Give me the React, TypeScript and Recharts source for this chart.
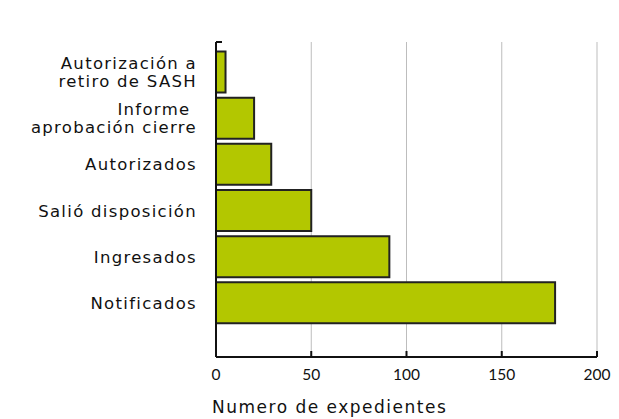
import { BarChart, Bar, XAxis, YAxis, CartesianGrid } from 'recharts'

const categories = [
  'Autorización a\nretiro de SASH',
  'Informe \naprobación cierre',
  'Autorizados',
  'Salió disposición',
  'Ingresados',
  'Notificados',
]
const expedientes = [5, 20, 29, 50, 91, 178]
const xTicks = [0, 50, 100, 150, 200]

const data = categories.map((c, i) => ({ cat: c, n: expedientes[i] }))

const FONT = '"DejaVu Sans", sans-serif'

const YTick = ({ x, y, payload }: any) => {
  const lines: string[] = String(payload.value).split('\n')
  const lh = 18
  const start = -((lines.length - 1) * lh) / 2
  return (
    <text x={x} y={y} textAnchor="end" fill="#111" fontSize={16.5} letterSpacing={1.3} fontFamily={FONT}>
      {lines.map((l, i) => (
        <tspan key={i} x={x} dy={i === 0 ? start + 6 : lh} style={{ whiteSpace: 'pre' }}>{l}</tspan>
      ))}
    </text>
  )
}

const XTick = ({ x, y, payload }: any) => (
  <g>
    <line x1={x} x2={x} y1={y - 6} y2={y} stroke="#111" strokeWidth={2} />
    <text x={x} y={y + 23} textAnchor="middle" fill="#111" fontSize={15.5} fontFamily="Lato, sans-serif">
      {payload.value}
    </text>
  </g>
)

export default function App() {
  return (
    <div style={{ position: 'absolute', left: 0, top: 0, background: '#fff' }}>
      <BarChart
        width={619} height={419} data={data} layout="vertical"
        margin={{ top: 42, right: 22, bottom: 0, left: 0 }}
        barCategoryGap={2.5}
      >
        <CartesianGrid horizontal={false} stroke="#bdbdbd" strokeWidth={1} />
        <XAxis
          type="number" domain={[0, 200]} ticks={xTicks} height={62}
          tickLine={false} tickSize={0} tickMargin={0}
          axisLine={{ stroke: '#111', strokeWidth: 2 }}
          tick={<XTick />}
          label={({ viewBox }: any) => (
            <text x={viewBox.x - 4} y={viewBox.y + 56} fill="#111" fontSize={17} letterSpacing={1.5}
              fontFamily={FONT}>
              Numero de expedientes
            </text>
          )}
        />
        <YAxis
          type="category" dataKey="cat" width={216}
          tickLine={false} tickSize={0} tickMargin={19}
          axisLine={{ stroke: '#111', strokeWidth: 2 }}
          padding={{ top: 7, bottom: 31 }}
          tick={<YTick />}
          interval={0}
          label={({ viewBox }: any) => (
            <line x1={viewBox.x + viewBox.width} x2={viewBox.x + viewBox.width + 6}
              y1={viewBox.y} y2={viewBox.y} stroke="#111" strokeWidth={2} />
          )}
        />
        <Bar dataKey="n" fill="#b3c700" stroke="#222" strokeWidth={2} isAnimationActive={false} />
      </BarChart>
    </div>
  )
}
